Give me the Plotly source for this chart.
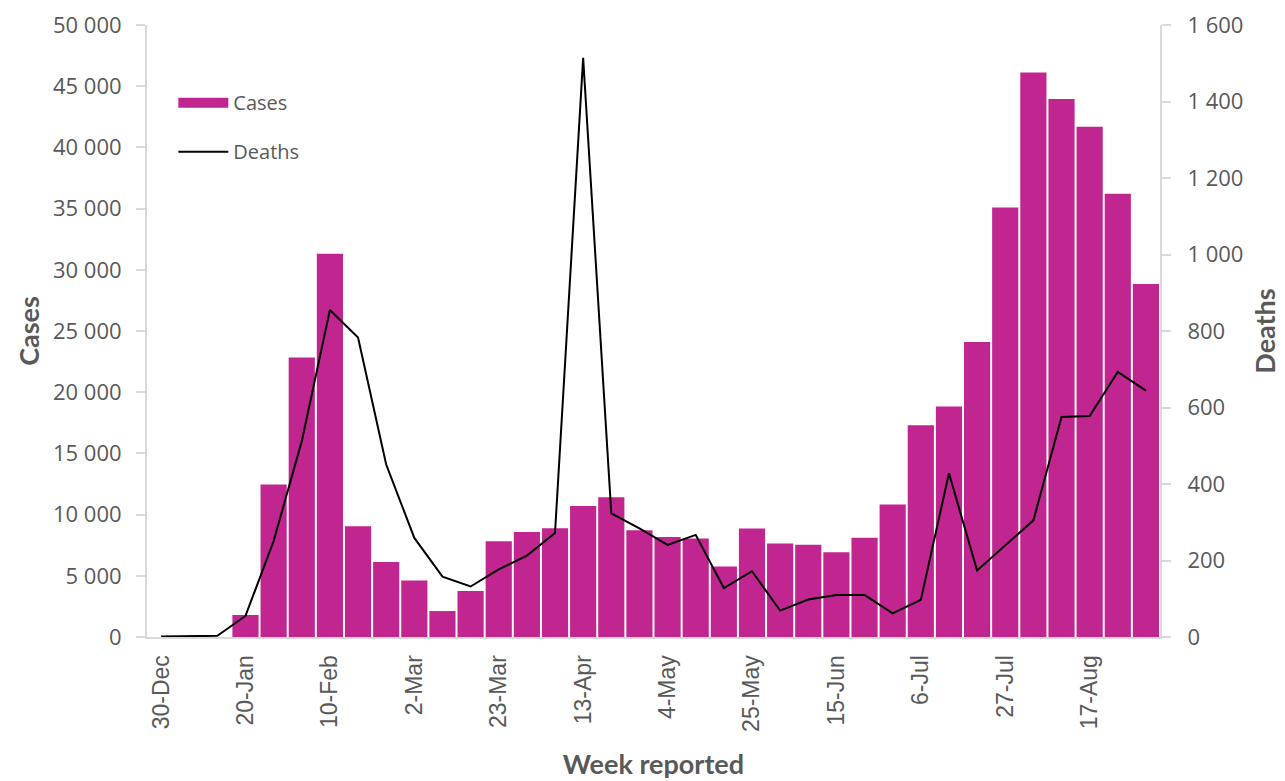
import plotly.graph_objects as go

weeks = ["30-Dec", "6-Jan", "13-Jan", "20-Jan", "27-Jan", "3-Feb", "10-Feb", "17-Feb", "24-Feb",
         "2-Mar", "9-Mar", "16-Mar", "23-Mar", "30-Mar", "6-Apr", "13-Apr", "20-Apr", "27-Apr",
         "4-May", "11-May", "18-May", "25-May", "1-Jun", "8-Jun", "15-Jun", "22-Jun", "29-Jun",
         "6-Jul", "13-Jul", "20-Jul", "27-Jul", "3-Aug", "10-Aug", "17-Aug", "24-Aug", "31-Aug"]

cases = [None, None, None, 1800, 12460, 22840, 31320, 9050, 6120,
         4620, 2120, 3750, 7830, 8570, 8890, 10710, 11420, 8730,
         8160, 8050, 5770, 8870, 7640, 7530, 6930, 8100, 10830,
         17300, 18830, 24100, 35090, 46110, 43960, 41680, 36210, 28830]

deaths = [1, 2, 3, 55, 251, 512, 855, 783, 451,
          259, 158, 132, 177, 213, 272, 1514, 323, 284,
          241, 267, 128, 172, 69, 98, 110, 110, 62,
          97, 428, 174, 239, 305, 575, 578, 693, 644]

tick_labels = ["30-Dec", "20-Jan", "10-Feb", "2-Mar", "23-Mar", "13-Apr",
               "4-May", "25-May", "15-Jun", "6-Jul", "27-Jul", "17-Aug"]

BAR = "#C1258F"
TXT = "#595959"
AX = "#D9D9D9"
YTICKFONT = dict(family="Open Sans, DejaVu Sans, sans-serif", size=22, color=TXT)
XTICKFONT = dict(family="Liberation Sans, Arial, sans-serif", size=23, color=TXT)
TITLEFONT = dict(family="Lato, Open Sans, sans-serif", size=27, color=TXT, weight="bold")

fig = go.Figure()
fig.add_trace(go.Bar(x=weeks, y=cases, name="Cases", marker=dict(color=BAR, line=dict(width=0)),
                     showlegend=False, yaxis="y"))
# legend entry for the bars, drawn as a wide swatch (no data points)
fig.add_trace(go.Scatter(x=[None], y=[None], name="Cases", mode="lines",
                         line=dict(color=BAR, width=13), legendgroup="a", yaxis="y"))
fig.add_trace(go.Scatter(x=weeks, y=deaths, name="Deaths", mode="lines",
                         line=dict(color="black", width=2), legendgroup="b", yaxis="y2"))

fig.update_layout(
    width=1285, height=781,
    margin=dict(l=139, r=133, t=17, b=152, autoexpand=False),
    paper_bgcolor="white", plot_bgcolor="white",
    separators=". ",
    bargap=0.07,
    showlegend=True,
    legend=dict(x=0.026, y=0.905, xanchor="left", yanchor="top",
                font=dict(family="Open Sans, DejaVu Sans, sans-serif", size=20, color=TXT),
                bgcolor="rgba(0,0,0,0)", traceorder="grouped", tracegroupgap=20,
                itemwidth=50),
    xaxis=dict(type="category", categoryorder="array", categoryarray=weeks,
               tickmode="array", tickvals=tick_labels, ticktext=tick_labels,
               tickangle=-90, tickfont=XTICKFONT, showgrid=False,
               showline=True, linecolor=AX, linewidth=2, ticks="",
               ticklabelstandoff=7,
               title=dict(text="Week reported", font=TITLEFONT, standoff=24)),
    yaxis=dict(range=[0, 50000], dtick=5000, tickformat=",d", separatethousands=True,
               showgrid=False, zeroline=False, showline=True, linecolor=AX, linewidth=2,
               ticks="outside", ticklen=9, tickcolor=AX, tickwidth=1.5,
               tickfont=YTICKFONT, ticklabelstandoff=10, ticklabeloverflow="allow",
               title=dict(text="Cases", font=TITLEFONT, standoff=6)),
    yaxis2=dict(range=[0, 1600], dtick=200, tickformat=",d", separatethousands=True,
                overlaying="y", side="right", showgrid=False, zeroline=False,
                showline=True, linecolor=AX, linewidth=2,
                ticks="outside", ticklen=9, tickcolor=AX, tickwidth=1.5,
                tickfont=YTICKFONT, ticklabelstandoff=12, ticklabeloverflow="allow",
                title=dict(text="Deaths", font=TITLEFONT, standoff=14)),
)

fig.write_html("out.html")
